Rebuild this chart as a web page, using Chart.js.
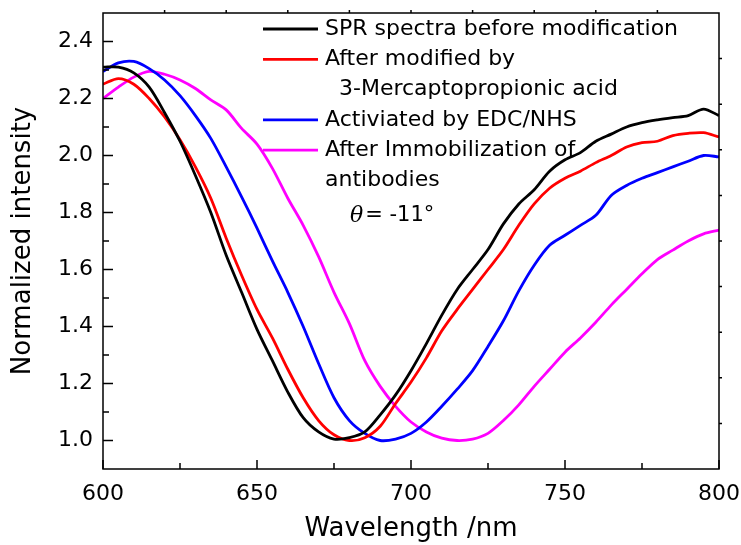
<!DOCTYPE html>
<html>
<head>
<meta charset="utf-8">
<script src="https://cdn.jsdelivr.net/npm/chart.js@4.4.0/dist/chart.umd.min.js"></script>
<style>
  html, body { margin: 0; padding: 0; background: #fff; }
</style>
</head>
<body>
<canvas id="spr" width="741" height="545"></canvas>
<script>
// wavelength grid (nm) and the four normalized spectra
var wavelength = [600,605,610,615,620,625,630,635,640,645,650,655,660,665,670,675,680,685,690,695,
                  700,705,710,715,720,725,730,735,740,745,750,755,760,765,770,775,780,785,790,795,800];

var sprBefore = [2.31,2.31,2.29,2.24,2.15,2.05,1.93,1.80,1.65,1.52,1.39,1.28,1.17,1.08,1.03,1.005,1.01,1.03,1.09,1.16,
                 1.245,1.34,1.44,1.53,1.60,1.67,1.76,1.83,1.88,1.945,1.985,2.01,2.05,2.075,2.10,2.115,2.125,2.133,2.14,2.163,2.14];

var afterMPA = [2.25,2.27,2.25,2.20,2.135,2.055,1.96,1.85,1.71,1.58,1.46,1.36,1.25,1.15,1.07,1.02,1.0,1.01,1.05,1.13,
                1.205,1.29,1.385,1.46,1.53,1.60,1.67,1.755,1.83,1.885,1.92,1.945,1.975,2.0,2.03,2.045,2.05,2.07,2.078,2.08,2.065];

var afterEDC = [2.295,2.325,2.33,2.305,2.265,2.21,2.14,2.06,1.96,1.855,1.745,1.63,1.52,1.40,1.27,1.15,1.07,1.025,1.0,1.005,
                1.025,1.065,1.12,1.18,1.245,1.33,1.42,1.525,1.615,1.685,1.72,1.755,1.79,1.86,1.895,1.92,1.94,1.96,1.98,2.0,1.995];

var afterAb = [2.20,2.24,2.275,2.295,2.285,2.265,2.235,2.195,2.16,2.095,2.04,1.955,1.85,1.755,1.645,1.52,1.41,1.28,1.19,1.12,
               1.065,1.03,1.008,1.0,1.005,1.025,1.07,1.125,1.19,1.25,1.31,1.36,1.415,1.475,1.53,1.585,1.635,1.668,1.70,1.725,1.738];

var seriesColors = ['#000000', '#ff0000', '#0000ff', '#ff00ff'];
var legendLines = [
  ['SPR spectra before modification'],
  ['After modified by', '  3-Mercaptopropionic acid'],
  ['Activiated by EDC/NHS'],
  ['After Immobilization of', 'antibodies']
];

var xTicks = [600, 650, 700, 750, 800];
var xMinor = [625, 675, 725, 775];
var topTicks = [620, 640, 660, 680, 700, 720, 740, 760, 780];
var yTicks = [1.0, 1.2, 1.4, 1.6, 1.8, 2.0, 2.2, 2.4];
var yMinor = [1.1, 1.3, 1.5, 1.7, 1.9, 2.1, 2.3];
var rightTicks = [1.06, 1.22, 1.38, 1.54, 1.70, 1.86, 2.02, 2.18, 2.34];

var FONT = '"DejaVu Sans", "Liberation Sans", Arial, sans-serif';

function pairs(ys) {
  return wavelength.map(function (w, i) { return { x: w, y: ys[i] }; });
}

function makeSet(label, ys, color) {
  return {
    label: label,
    data: pairs(ys),
    borderColor: color,
    backgroundColor: color,
    borderWidth: 2.8,
    pointRadius: 0,
    tension: 0.3,
    fill: false
  };
}

// frame, inward ticks, legend block and the theta note
var framePlugin = {
  id: 'frame',
  afterDraw: function (chart) {
    var ctx = chart.ctx;
    var a = chart.chartArea;
    var xs = chart.scales.x, ys = chart.scales.y;
    ctx.save();
    ctx.strokeStyle = '#000';
    ctx.lineWidth = 1.5;
    ctx.strokeRect(a.left, a.top, a.right - a.left, a.bottom - a.top);

    ctx.beginPath();
    xTicks.forEach(function (v) {
      var px = xs.getPixelForValue(v);
      ctx.moveTo(px, a.bottom); ctx.lineTo(px, a.bottom - 9);
    });
    xMinor.forEach(function (v) {
      var px = xs.getPixelForValue(v);
      ctx.moveTo(px, a.bottom); ctx.lineTo(px, a.bottom - 6);
    });
    yTicks.forEach(function (v) {
      var py = ys.getPixelForValue(v);
      ctx.moveTo(a.left, py); ctx.lineTo(a.left + 10, py);
    });
    yMinor.forEach(function (v) {
      var py = ys.getPixelForValue(v);
      ctx.moveTo(a.left, py); ctx.lineTo(a.left + 6, py);
    });
    topTicks.forEach(function (v) {
      var px = xs.getPixelForValue(v);
      ctx.moveTo(px, a.top); ctx.lineTo(px, a.top - 3);
    });
    rightTicks.forEach(function (v) {
      var py = ys.getPixelForValue(v);
      ctx.moveTo(a.right, py); ctx.lineTo(a.right + 3, py);
    });
    ctx.stroke();

    // legend
    ctx.font = '22px ' + FONT;
    ctx.textBaseline = 'middle';
    ctx.textAlign = 'left';
    ctx.fillStyle = '#000';
    var rowY = 29, step = 30.3;
    var lx0 = 263, lx1 = 318, tx = 325;
    legendLines.forEach(function (lines, i) {
      ctx.strokeStyle = seriesColors[i];
      ctx.lineWidth = 2.8;
      ctx.beginPath();
      ctx.moveTo(lx0, rowY); ctx.lineTo(lx1, rowY);
      ctx.stroke();
      lines.forEach(function (t) {
        ctx.fillText(t, tx, rowY);
        rowY += step;
      });
    });

    // theta note
    ctx.font = 'italic 22px "DejaVu Serif", "Liberation Serif", serif';
    ctx.fillText('\u03b8', 350, 216);
    var w = ctx.measureText('\u03b8').width;
    ctx.font = '21px ' + FONT;
    ctx.fillText('= -11\u00b0', 350 + w + 2, 216);
    ctx.restore();
  }
};

new Chart(document.getElementById('spr'), {
  type: 'line',
  data: {
    datasets: [
      makeSet('SPR spectra before modification', sprBefore, seriesColors[0]),
      makeSet('After modified by 3-Mercaptopropionic acid', afterMPA, seriesColors[1]),
      makeSet('Activiated by EDC/NHS', afterEDC, seriesColors[2]),
      makeSet('After Immobilization of antibodies', afterAb, seriesColors[3])
    ]
  },
  options: {
    responsive: false,
    animation: false,
    devicePixelRatio: 1,
    layout: { padding: { left: 0, right: 22, top: 13, bottom: 0 } },
    plugins: {
      legend: { display: false },
      tooltip: { enabled: false }
    },
    scales: {
      x: {
        type: 'linear',
        min: 600,
        max: 800,
        grid: { display: false, drawTicks: false },
        border: { display: false },
        afterBuildTicks: function (s) { s.ticks = xTicks.map(function (v) { return { value: v }; }); },
        afterFit: function (s) { s.height = 76; s.paddingLeft = 0; s.paddingRight = 0; },
        ticks: {
          padding: 12,
          color: '#000',
          font: { family: FONT, size: 22 },
          maxRotation: 0,
          callback: function (v) { return String(v); }
        },
        title: {
          display: true,
          text: 'Wavelength /nm',
          color: '#000',
          font: { family: FONT, size: 26 },
          padding: { top: 0, bottom: 0 }
        }
      },
      y: {
        type: 'linear',
        min: 0.9,
        max: 2.5,
        grid: { display: false, drawTicks: false },
        border: { display: false },
        afterBuildTicks: function (s) { s.ticks = yTicks.map(function (v) { return { value: v }; }); },
        afterFit: function (s) { s.width = 103; s.paddingTop = 0; s.paddingBottom = 0; },
        ticks: {
          padding: 10,
          color: '#000',
          font: { family: FONT, size: 22 },
          callback: function (v) { return Number(v).toFixed(1); }
        },
        title: {
          display: true,
          text: 'Normalized intensity',
          color: '#000',
          font: { family: FONT, size: 26 },
          padding: { top: 8, bottom: 0 }
        }
      }
    }
  },
  plugins: [framePlugin]
});
</script>
</body>
</html>
